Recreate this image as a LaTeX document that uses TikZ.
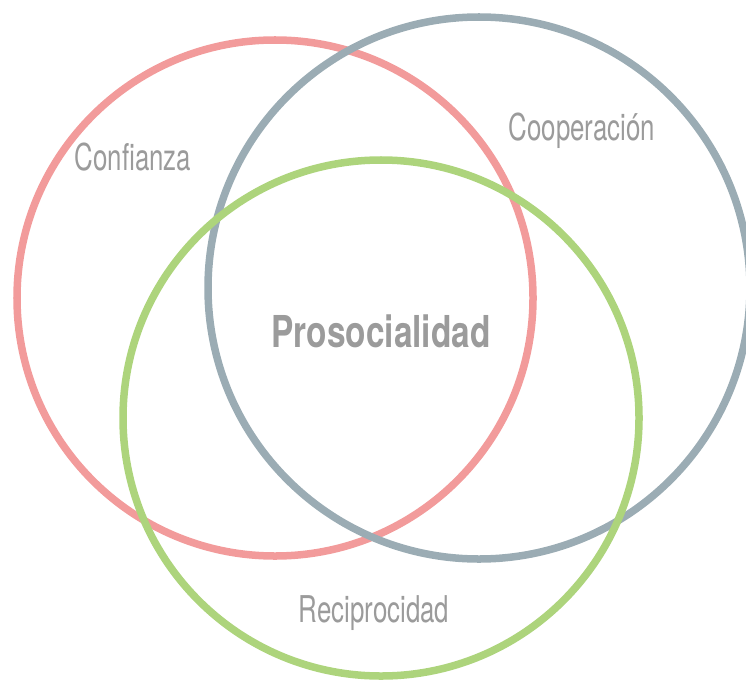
\documentclass[tikz,border=0pt]{standalone}
\usepackage{fontspec}
\setmainfont{TeX Gyre Heros}
\newfontfamily\condfont[FakeStretch=0.70]{TeX Gyre Heros}
\newfontfamily\condboldfont[FakeStretch=0.76]{TeX Gyre Heros Bold}
\usepackage{tikz}
\definecolor{myred}{RGB}{242,155,155}
\definecolor{mygray}{RGB}{155,172,180}
\definecolor{mygreen}{RGB}{173,212,124}
\definecolor{mytext}{RGB}{155,155,155}

\begin{document}
\begin{tikzpicture}[x=0.01cm, y=-0.01cm,
                ring/.style={line width=0.075cm},
                label/.style={text=mytext, inner sep=0pt, font=\condfont\fontsize{10.5}{12}\selectfont},
                title/.style={text=mytext, inner sep=0pt, font=\condboldfont\fontsize{12.5}{14}\selectfont}]
                \def\rA{258}
                \def\rB{271}
                \useasboundingbox (0,0) rectangle (746,679);

                % the three sets (green lies on top)
                \draw[ring,myred]   (275,298) circle[radius=\rA];
                \draw[ring,mygray]  (479,288) circle[radius=\rB];
                \draw[ring,mygreen] (381,418) circle[radius=\rA];

                % names of the sets
                \node[label] (confianza) at (133,157) {Confianza};
                \node[label] (cooperacion) at (582,131) {Cooperación};
                \node[label] (reciprocidad) at (374,613) {Reciprocidad};
                \node[title] (prosocialidad) at (381,331) {Prosocialidad};

\end{tikzpicture}
\end{document}
